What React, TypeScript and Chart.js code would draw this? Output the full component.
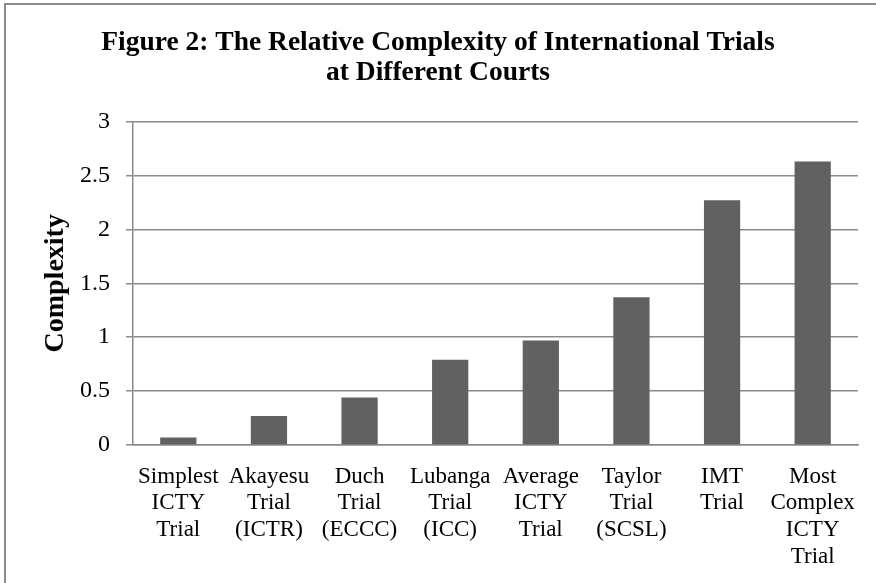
import React, { useEffect, useRef } from "react";
import { Chart, registerables } from "chart.js";

Chart.register(...registerables);

const categories: string[][] = [
  ["Simplest", "ICTY", "Trial"],
  ["Akayesu", "Trial", "(ICTR)"],
  ["Duch", "Trial", "(ECCC)"],
  ["Lubanga", "Trial", "(ICC)"],
  ["Average", "ICTY", "Trial"],
  ["Taylor", "Trial", "(SCSL)"],
  ["IMT", "Trial"],
  ["Most", "Complex", "ICTY", "Trial"],
];
const complexity: number[] = [0.07, 0.27, 0.44, 0.79, 0.97, 1.37, 2.27, 2.63];
const titleLines: string[] = [
  "Figure 2: The Relative Complexity of International Trials",
  "at Different Courts",
];
const yAxisTitle = "Complexity";
const yMin = 0;
const yMax = 3;
const yStep = 0.5;

const FONT = "'Liberation Serif', 'Times New Roman', serif";

export default function App() {
  const ref = useRef<HTMLCanvasElement | null>(null);
  useEffect(() => {
    if (!ref.current) return;
    const chart = new Chart(ref.current, {
      type: "bar",
      data: {
        labels: categories,
        datasets: [
          {
            data: complexity,
            backgroundColor: "#616161",
            barPercentage: 0.4,
            categoryPercentage: 1,
          },
        ],
      },
      options: {
        animation: false,
        responsive: false,
        maintainAspectRatio: false,
        layout: { padding: 0 },
        plugins: {
          legend: { display: false },
          tooltip: { enabled: false },
          title: {
            display: true,
            text: titleLines,
            color: "#000",
            font: { family: FONT, size: 27.5, weight: "bold", lineHeight: 1.12 },
            padding: { top: 27, bottom: 33 },
          },
        },
        scales: {
          x: {
            grid: { display: false, drawTicks: false },
            border: { display: true, color: "#8a8a8a", width: 1.5 },
            ticks: {
              color: "#000",
              font: { family: FONT, size: 23, lineHeight: 1.17 },
              padding: 18,
              maxRotation: 0,
              autoSkip: false,
            },
            afterFit: (s: any) => {
              s.height = 138;
            },
          },
          y: {
            min: yMin,
            max: yMax,
            grid: { color: "#8a8a8a", lineWidth: 1.5, tickLength: 7 },
            border: { display: true, color: "#8a8a8a", width: 1.5 },
            ticks: {
              stepSize: yStep,
              color: "#000",
              font: { family: FONT, size: 24 },
              padding: 16,
              callback: (v: any) => String(Number(v)),
            },
            title: {
              display: true,
              text: yAxisTitle,
              color: "#000",
              font: { family: FONT, size: 28, weight: "bold" },
              padding: { top: 39, bottom: 0 },
            },
            afterFit: (s: any) => {
              s.width = 133;
            },
          },
          yRight: {
            position: "right",
            display: true,
            min: yMin,
            max: yMax,
            grid: { display: false, drawTicks: false },
            border: { display: false },
            ticks: { display: false },
            afterFit: (s: any) => {
              s.width = 18;
            },
          },
        },
      },
    });
    return () => chart.destroy();
  }, []);
  return (
    <div style={{ position: "absolute", left: 0, top: 0, width: 876, height: 583, overflow: "hidden", background: "#fff" }}>
      <div
        style={{
          position: "absolute",
          left: 4,
          top: 3,
          width: 900,
          height: 700,
          borderLeft: "2px solid #8c8c8c",
          borderTop: "2px solid #8c8c8c",
        }}
      />
      <canvas ref={ref} width={876} height={583} style={{ position: "absolute", left: 0, top: 0 }} />
    </div>
  );
}
